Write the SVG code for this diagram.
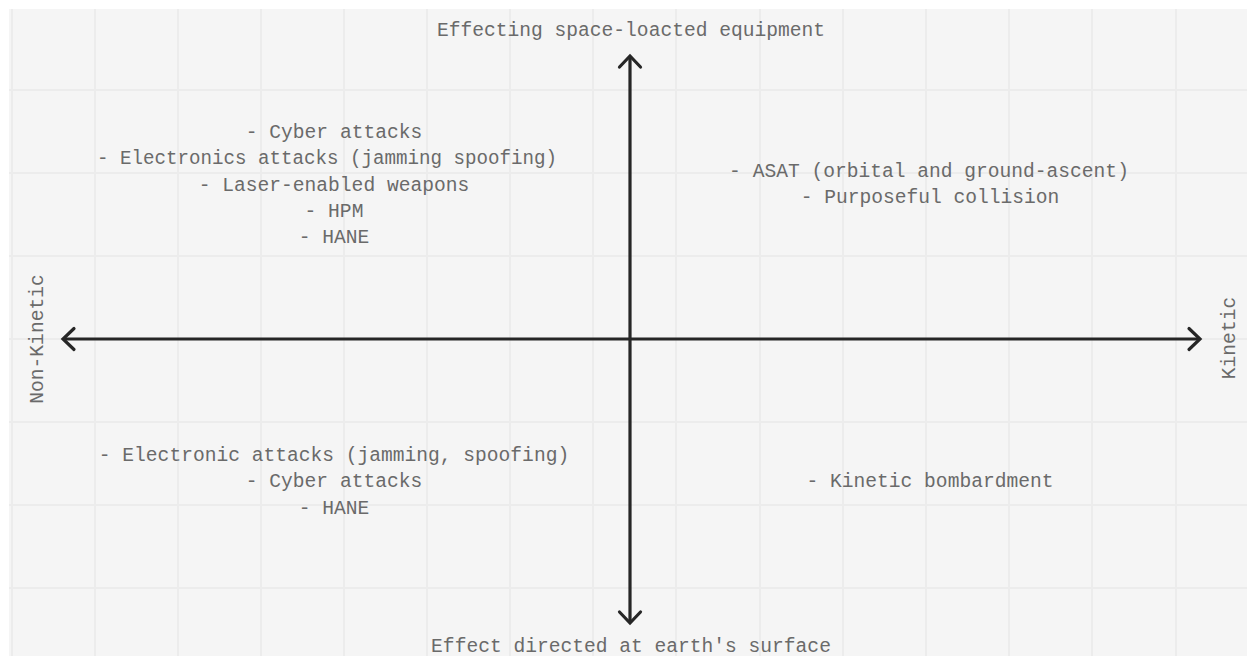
<svg xmlns="http://www.w3.org/2000/svg" width="1247" height="656" viewBox="0 0 1247 656">
  <defs>
    <style>
      .grid line { stroke: #ececec; stroke-width: 2; }
      .lbl { font-family: "Liberation Mono", "DejaVu Sans Mono", monospace; font-size: 19.6px; fill: #6a6a6a; text-anchor: middle; }
      .axis { stroke: #262626; stroke-width: 3.2; fill: none; }
    </style>
    <marker id="chev" markerUnits="userSpaceOnUse" markerWidth="30" markerHeight="30" viewBox="-15 -15 30 30" refX="0" refY="0" orient="auto-start-reverse" overflow="visible">
      <path d="M -11 -10.5 L 0 0 L -11 10.5" fill="none" stroke="#262626" stroke-width="3.2" stroke-linecap="round" stroke-linejoin="miter"/>
    </marker>
  </defs>
  <rect x="0" y="0" width="1247" height="656" fill="#ffffff"/>
  <rect x="9" y="9" width="1238" height="647" fill="#f5f5f5"/>
  <g class="grid" id="grid">
    <line x1="12" y1="9" x2="12" y2="656"/>
    <line x1="95" y1="9" x2="95" y2="656"/>
    <line x1="178" y1="9" x2="178" y2="656"/>
    <line x1="261" y1="9" x2="261" y2="656"/>
    <line x1="344" y1="9" x2="344" y2="656"/>
    <line x1="427" y1="9" x2="427" y2="656"/>
    <line x1="510" y1="9" x2="510" y2="656"/>
    <line x1="593" y1="9" x2="593" y2="656"/>
    <line x1="676" y1="9" x2="676" y2="656"/>
    <line x1="760" y1="9" x2="760" y2="656"/>
    <line x1="843" y1="9" x2="843" y2="656"/>
    <line x1="926" y1="9" x2="926" y2="656"/>
    <line x1="1009" y1="9" x2="1009" y2="656"/>
    <line x1="1092" y1="9" x2="1092" y2="656"/>
    <line x1="1176" y1="9" x2="1176" y2="656"/>
    <line x1="9" y1="90" x2="1247" y2="90"/>
    <line x1="9" y1="173" x2="1247" y2="173"/>
    <line x1="9" y1="256" x2="1247" y2="256"/>
    <line x1="9" y1="339" x2="1247" y2="339"/>
    <line x1="9" y1="422" x2="1247" y2="422"/>
    <line x1="9" y1="505" x2="1247" y2="505"/>
    <line x1="9" y1="588" x2="1247" y2="588"/>
  </g>
  <g id="connectors">
    <line class="axis" x1="63" y1="339" x2="1200" y2="339" marker-start="url(#chev)" marker-end="url(#chev)"/>
    <line class="axis" x1="630" y1="56" x2="630" y2="623" marker-start="url(#chev)" marker-end="url(#chev)"/>
  </g>
  <g id="label-top">
    <text class="lbl" x="631" y="36">Effecting space-loacted equipment</text>
  </g>
  <g id="label-bottom">
    <text class="lbl" x="631" y="652">Effect directed at earth's surface</text>
  </g>
  <g id="label-left">
    <text class="lbl" transform="translate(43,339) rotate(-90)">Non-Kinetic</text>
  </g>
  <g id="label-right">
    <text class="lbl" transform="translate(1235,338) rotate(-90)">Kinetic</text>
  </g>
  <g id="quadrant-top-left">
    <text class="lbl" x="334" y="138">- Cyber attacks</text>
    <text class="lbl" x="327" y="164" textLength="460" lengthAdjust="spacingAndGlyphs">- Electronics attacks (jamming spoofing)</text>
    <text class="lbl" x="334" y="191">- Laser-enabled weapons</text>
    <text class="lbl" x="334" y="217">- HPM</text>
    <text class="lbl" x="334" y="243">- HANE</text>
  </g>
  <g id="quadrant-top-right">
    <text class="lbl" x="929" y="177">- ASAT (orbital and ground-ascent)</text>
    <text class="lbl" x="930" y="203">- Purposeful collision</text>
  </g>
  <g id="quadrant-bottom-left">
    <text class="lbl" x="334" y="461">- Electronic attacks (jamming, spoofing)</text>
    <text class="lbl" x="334" y="487">- Cyber attacks</text>
    <text class="lbl" x="334" y="514">- HANE</text>
  </g>
  <g id="quadrant-bottom-right">
    <text class="lbl" x="930" y="487">- Kinetic bombardment</text>
  </g>
</svg>
